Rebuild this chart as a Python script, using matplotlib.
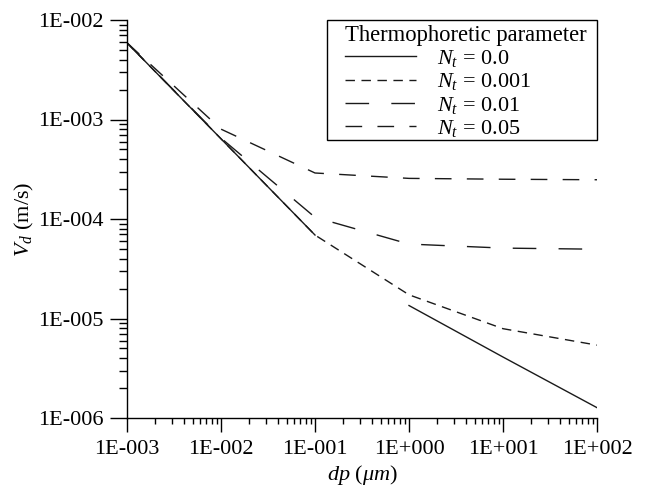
import numpy as np
import matplotlib
matplotlib.use("Agg")
import matplotlib.pyplot as plt
from matplotlib.patches import Rectangle
from matplotlib.ticker import FixedLocator, LogLocator, NullFormatter

# ---- data ----
dp = [1e-3, 1e-2, 1e-1, 1e0, 1e1, 1e2]
vd_nt0 = [5.9e-3, 6.4e-4, 6.9e-5, 1.35e-5, 4.1e-6, 1.27e-6]
vd_nt0001 = [5.9e-3, 6.4e-4, 6.9e-5, 1.73e-5, 7.9e-6, 5.4e-6]
vd_nt001 = [5.9e-3, 6.5e-4, 1.04e-4, 5.6e-5, 5.1e-5, 4.97e-5]
vd_nt005 = [5.9e-3, 8.0e-4, 2.9e-4, 2.56e-4, 2.51e-4, 2.48e-4]

labels = [r"$N_t$ = 0.0", r"$N_t$ = 0.001", r"$N_t$ = 0.01", r"$N_t$ = 0.05"]
legend_title = "Thermophoretic parameter"

x_ticks = [1e-3, 1e-2, 1e-1, 1e0, 1e1, 1e2]
x_ticklabels = ["1E-003", "1E-002", "1E-001", "1E+000", "1E+001", "1E+002"]
y_ticks = [1e-6, 1e-5, 1e-4, 1e-3, 1e-2]
y_ticklabels = ["1E-006", "1E-005", "1E-004", "1E-003", "1E-002"]

# ---- style ----
plt.rcParams["font.family"] = ["Liberation Serif", "DejaVu Serif"]
plt.rcParams["mathtext.fontset"] = "custom"
plt.rcParams["mathtext.rm"] = "Liberation Serif"
plt.rcParams["mathtext.it"] = "Liberation Serif:italic"
plt.rcParams["mathtext.bf"] = "Liberation Serif:bold"
FS = 16

fig = plt.figure(figsize=(6.49, 4.91), dpi=100)
ax = fig.add_axes([127 / 649, 1 - 418 / 491, (597 - 127) / 649, (418 - 20) / 491])

lc = "#1a1a1a"
lw = 1.0
# Nt = 0.0 drawn in two pieces (gap between 0.1 and 1 um in the reference)
l0, = ax.plot(dp[:3], vd_nt0[:3], color=lc, lw=lw, ls="-", label=labels[0])
ax.plot(dp[3:], vd_nt0[3:], color=lc, lw=lw, ls="-")
l1, = ax.plot(dp, vd_nt0001, color=lc, lw=lw, dashes=(6.8, 4.7), label=labels[1])
l2, = ax.plot(dp, vd_nt001, color=lc, lw=lw, dashes=(17, 16), label=labels[2])
l3, = ax.plot(dp, vd_nt005, color=lc, lw=lw, dashes=(12, 11), label=labels[3])

ax.set_xscale("log")
ax.set_yscale("log")
ax.set_xlim(1e-3, 1e2)
ax.set_ylim(1e-6, 1e-2)

ax.xaxis.set_major_locator(FixedLocator(x_ticks))
ax.set_xticklabels(x_ticklabels)
ax.yaxis.set_major_locator(FixedLocator(y_ticks))
ax.set_yticklabels(y_ticklabels)
ax.xaxis.set_minor_locator(LogLocator(base=10, subs=np.arange(2, 10), numticks=20))
ax.yaxis.set_minor_locator(LogLocator(base=10, subs=np.arange(2, 10), numticks=20))
ax.xaxis.set_minor_formatter(NullFormatter())
ax.yaxis.set_minor_formatter(NullFormatter())

for s in ("top", "right"):
    ax.spines[s].set_visible(False)
for s in ("left", "bottom"):
    ax.spines[s].set_linewidth(1.0)
    ax.spines[s].set_color("black")

ax.tick_params(axis="y", which="major", direction="out", length=12, width=1.0, pad=5, labelsize=FS)
ax.tick_params(axis="y", which="minor", direction="out", length=6, width=1.0)
ax.tick_params(axis="x", which="major", direction="out", length=10, width=1.0, pad=6, labelsize=FS)
ax.tick_params(axis="x", which="minor", direction="out", length=4, width=1.0)

ax.set_xlabel(r"$dp$ ($\mu m$)", fontsize=FS, labelpad=3)
ax.set_ylabel(r"$V_d$ (m/s)", fontsize=FS, labelpad=1)

# legend box frame (square corners, black edge)
frame = Rectangle((200 / 470, 278 / 398), 270 / 470, 120 / 398, transform=ax.transAxes,
                  facecolor="white", edgecolor="black", lw=1.0, clip_on=False, zorder=4)
ax.add_patch(frame)

leg = ax.legend(handles=[l0, l1, l2, l3], title=legend_title, loc="upper left",
                bbox_to_anchor=(218 / 470, 393 / 398), borderaxespad=0.0, fontsize=FS,
                title_fontsize=16.3, frameon=False,
                handlelength=3.2, handletextpad=0.95, labelspacing=0.1,
                borderpad=0.0, alignment="left")
leg.set_zorder(5)

fig.savefig("out.png", dpi=100)
